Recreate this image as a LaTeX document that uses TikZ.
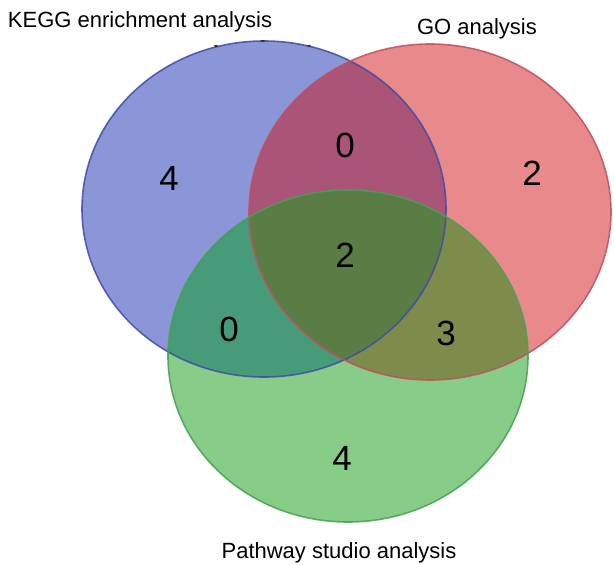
\documentclass[tikz,border=0pt]{standalone}
\usepackage{fontspec}
\setmainfont{Liberation Sans}
\definecolor{cblue}{RGB}{139,150,216}
\definecolor{cred}{RGB}{232,137,140}
\definecolor{cgreen}{RGB}{135,205,135}
\definecolor{cbr}{RGB}{170,85,120}
\definecolor{cbg}{RGB}{72,155,120}
\definecolor{crg}{RGB}{125,140,75}
\definecolor{call}{RGB}{90,125,70}
\definecolor{bblue}{RGB}{65,75,165}
\definecolor{bred}{RGB}{190,80,95}
\definecolor{bgreen}{RGB}{70,160,85}
\begin{document}
\begin{tikzpicture}[x=1pt,y=-1pt,
  lbl/.style={font=\fontsize{22}{26}\selectfont, inner sep=0pt, anchor=base},
  num/.style={font=\fontsize{35}{40}\selectfont, inner sep=0pt},
  bord/.style={line width=1.6pt, draw opacity=0.85}]
\useasboundingbox (0,0) rectangle (614,565);
\fill[white] (0,0) rectangle (614,565);
\def\bluepath{(264,209) ellipse [x radius=182, y radius=168]}
\def\redpath{(430,212) ellipse [x radius=181, y radius=168]}
\def\greenpath{(348,356) ellipse [x radius=180, y radius=166]}
\fill[cblue] \bluepath;
\fill[cred] \redpath;
\fill[cgreen] \greenpath;
\begin{scope}\clip \bluepath; \fill[cbr] \redpath;\end{scope}
\begin{scope}\clip \bluepath; \fill[cbg] \greenpath;\end{scope}
\begin{scope}\clip \redpath; \fill[crg] \greenpath;\end{scope}
\begin{scope}\clip \bluepath; \clip \redpath; \fill[call] \greenpath;\end{scope}
\draw[bord, bblue] \bluepath;
\draw[bord, bred] \redpath;
\draw[bord, bgreen] \greenpath;
\fill[black!80] (216,46) ellipse [x radius=2, y radius=1];
\fill[black!80] (263,41) ellipse [x radius=2, y radius=1];
\fill[black!80] (309,46) ellipse [x radius=2, y radius=1];
\node[lbl] (kegg) at (140,27) {KEGG enrichment analysis};
\node[lbl] (go) at (477,34) {GO analysis};
\node[lbl] (pw) at (339,558) {Pathway studio analysis};
\node[num] (nb) at (169,178) {4};
\node[num] (nbr) at (345,145) {0};
\node[num] (nr) at (532,173) {2};
\node[num] (nall) at (345,255) {2};
\node[num] (nbg) at (229,329) {0};
\node[num] (nrg) at (446,333) {3};
\node[num] (ng) at (342,458) {4};
\end{tikzpicture}
\end{document}
